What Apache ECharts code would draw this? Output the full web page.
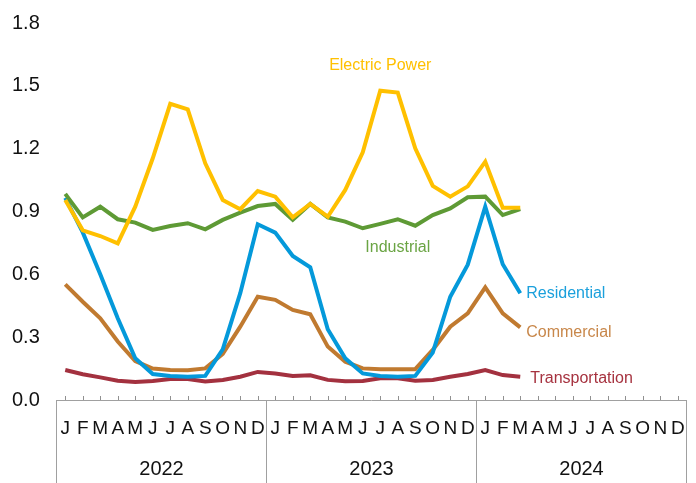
<!DOCTYPE html>
<html style="height: 100%">
    <head>
        <meta charset="utf-8">
    </head>
    <body style="height: 100%; margin: 0; background: #fff">
        <div id="container" style="width: 696px; height: 483px"></div>
        <script type="text/javascript" src="https://cdn.jsdelivr.net/npm/echarts@6/dist/echarts.min.js"></script>
        <script type="text/javascript">
    var years = ['2022', '2023', '2024'];
    var monthLetters = ['J', 'F', 'M', 'A', 'M', 'J', 'J', 'A', 'S', 'O', 'N', 'D'];

    // monthly values, Jan 2022 .. Mar 2024
    var electricPower = [0.955, 0.81, 0.783, 0.748, 0.923, 1.154, 1.414, 1.388, 1.13, 0.955, 0.911, 0.998,
        0.971, 0.872, 0.936, 0.875, 1.003, 1.183, 1.477, 1.468, 1.202, 1.022, 0.971, 1.02,
        1.138, 0.918, 0.918];
    var industrial = [0.984, 0.872, 0.923, 0.863, 0.847, 0.812, 0.831, 0.844, 0.815, 0.86, 0.895, 0.926,
        0.936, 0.86, 0.936, 0.872, 0.852, 0.82, 0.841, 0.863, 0.832, 0.883, 0.915, 0.968,
        0.971, 0.883, 0.912];
    var residential = [0.965, 0.80, 0.60, 0.39, 0.199, 0.124, 0.115, 0.111, 0.115, 0.242, 0.51, 0.839,
        0.799, 0.688, 0.634, 0.338, 0.199, 0.127, 0.115, 0.111, 0.115, 0.226, 0.493, 0.646,
        0.923, 0.648, 0.51];
    var commercial = [0.552, 0.469, 0.39, 0.279, 0.186, 0.15, 0.143, 0.142, 0.151, 0.22, 0.35, 0.493,
        0.478, 0.43, 0.409, 0.255, 0.183, 0.151, 0.147, 0.147, 0.147, 0.239, 0.35, 0.414,
        0.538, 0.414, 0.347];
    var transportation = [0.143, 0.123, 0.108, 0.092, 0.086, 0.091, 0.1, 0.1, 0.088, 0.096, 0.111, 0.134,
        0.127, 0.115, 0.118, 0.096, 0.089, 0.091, 0.104, 0.104, 0.092, 0.096, 0.111, 0.124,
        0.143, 0.119, 0.111];

    var months = [];
    for (var y = 0; y < years.length; y++) {
        for (var m = 0; m < 12; m++) {
            months.push(monthLetters[m]);
        }
    }

    var font = 'Liberation Sans, Arial, sans-serif';

    // put a text label on one point of a series
    function withLabel(values, idx, label) {
        return values.map(function (v, i) {
            if (i !== idx) return v;
            return { value: v, label: label };
        });
    }

    function lineSeries(name, color, data) {
        return {
            name: name,
            type: 'line',
            data: data,
            showSymbol: true,
            symbol: 'circle',
            symbolSize: 0,
            lineStyle: { color: color, width: 4, join: 'miter' },
            itemStyle: { color: color },
            label: { show: false },
            emphasis: { disabled: true },
            z: 2
        };
    }

    var dom = document.getElementById('container');
    var myChart = echarts.init(dom);

    var sTrans = lineSeries('Transportation', '#a3313f', transportation);
    sTrans.endLabel = { show: true, formatter: 'Transportation', color: '#a6323f',
        fontFamily: font, fontSize: 16, distance: 10, offset: [0, 2] };

    var sComm = lineSeries('Commercial', '#c07a30', commercial);
    sComm.endLabel = { show: true, formatter: 'Commercial', color: '#c8874a',
        fontFamily: font, fontSize: 16, distance: 6, offset: [0, 5] };

    var sRes = lineSeries('Residential', '#0499da', residential);
    sRes.endLabel = { show: true, formatter: 'Residential', color: '#1ba0dc',
        fontFamily: font, fontSize: 16, distance: 6, offset: [0, 0] };

    var sInd = lineSeries('Industrial', '#5e9a35', withLabel(industrial, 19, {
        show: true, position: 'bottom', distance: 20, formatter: 'Industrial',
        color: '#6aa443', fontFamily: font, fontSize: 16
    }));

    var sElec = lineSeries('Electric Power', '#ffc000', withLabel(electricPower, 18, {
        show: true, position: 'top', distance: 17, formatter: 'Electric Power',
        color: '#ffc000', fontFamily: font, fontSize: 16
    }));

    var option = {
        animation: false,
        backgroundColor: '#fff',
        grid: { left: 56.5, right: 9.5, top: 23, bottom: 83, containLabel: false },
        xAxis: [
            {
                type: 'category',
                data: months,
                boundaryGap: true,
                position: 'bottom',
                axisLine: { show: true, lineStyle: { color: '#a0a0a0', width: 1 } },
                axisTick: { show: true, inside: true, alignWithLabel: true, interval: 0, length: 4,
                    lineStyle: { color: '#909090' } },
                axisLabel: { interval: 0, margin: 19, color: '#111', fontSize: 19, fontFamily: font },
                splitLine: { show: false }
            },
            {
                type: 'category',
                data: years,
                boundaryGap: true,
                position: 'bottom',
                axisLine: { show: false },
                axisTick: { show: true, length: 83, lineStyle: { color: '#a0a0a0' } },
                axisLabel: { interval: 0, margin: 59, color: '#111', fontSize: 20, fontFamily: font },
                splitLine: { show: false }
            }
        ],
        yAxis: {
            type: 'value',
            min: 0,
            max: 1.8,
            interval: 0.3,
            axisLine: { show: false },
            axisTick: { show: false },
            splitLine: { show: false },
            axisLabel: {
                align: 'left',
                margin: 44.5,
                color: '#111',
                fontSize: 20,
                fontFamily: font,
                formatter: function (v) { return v.toFixed(1); }
            }
        },
        series: [sTrans, sComm, sRes, sInd, sElec]
    };

    myChart.setOption(option);
        </script>
    </body>
</html>
